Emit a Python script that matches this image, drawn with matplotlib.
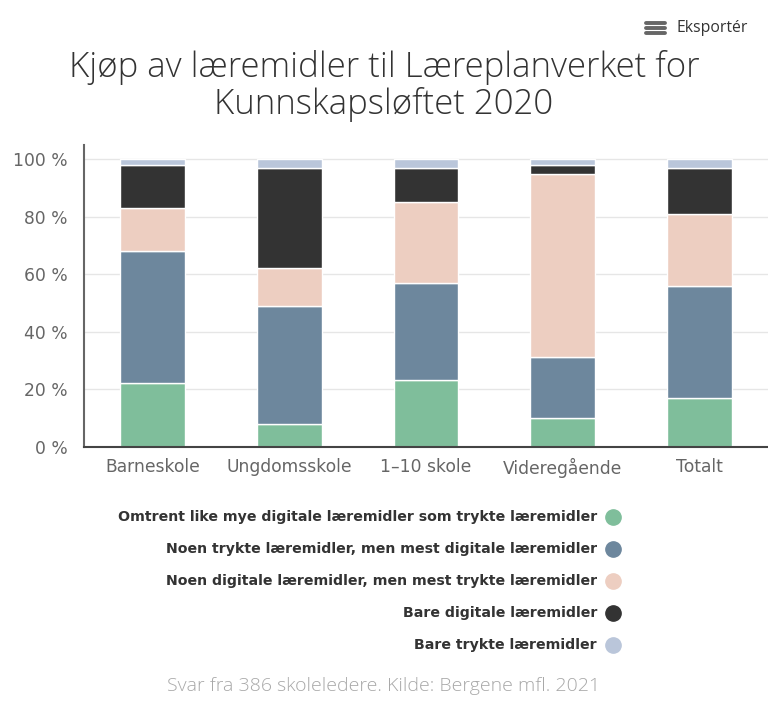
import numpy as np
import matplotlib.pyplot as plt
from matplotlib.lines import Line2D

categories = ["Barneskole", "Ungdomsskole", "1–10 skole", "Videregående", "Totalt"]
series = [
    "Omtrent like mye digitale læremidler som trykte læremidler",
    "Noen trykte læremidler, men mest digitale læremidler",
    "Noen digitale læremidler, men mest trykte læremidler",
    "Bare digitale læremidler",
    "Bare trykte læremidler",
]
like_mye = [22, 8, 23, 10, 17]
mest_digitale = [46, 41, 34, 21, 39]
mest_trykte = [15, 13, 28, 64, 25]
bare_digitale = [15, 35, 12, 3, 16]
bare_trykte = [2, 3, 3, 2, 3]
values = [like_mye, mest_digitale, mest_trykte, bare_digitale, bare_trykte]

colors = ["#7fbe9b", "#6d879d", "#edcec1", "#333333", "#bac6da"]

fig = plt.figure(figsize=(7.68, 7.04), dpi=100)
ax = fig.add_axes([84 / 768, 1 - 446.5 / 704, 1 - 84 / 768, (446.5 - 145) / 704])

x = np.arange(len(categories))
bottom = np.zeros(len(categories))
for name, vals, col in zip(series, values, colors):
    ax.bar(x, vals, 0.475, bottom=bottom, color=col, edgecolor="white",
           linewidth=1, label=name, zorder=2)
    bottom += np.array(vals)

ax.set_xlim(-0.5, len(categories) - 0.5)
ax.set_ylim(0, 105)
ax.set_yticks([0, 20, 40, 60, 80, 100])
ax.set_yticklabels([f"{v} %" for v in [0, 20, 40, 60, 80, 100]])
ax.set_xticks(x)
ax.set_xticklabels(categories)
ax.tick_params(axis="both", length=0, colors="#666666", labelsize=12.3)
ax.tick_params(axis="x", pad=8)
ax.tick_params(axis="y", pad=12)
ax.grid(axis="y", color="#e6e6e6", linewidth=1, zorder=0)
ax.set_axisbelow(True)
for s in ["top", "right"]:
    ax.spines[s].set_visible(False)
ax.spines["left"].set_color("#666666")
ax.spines["left"].set_linewidth(1.5)
ax.spines["bottom"].set_color("#444444")
ax.spines["bottom"].set_linewidth(1.5)

fig.text(0.5, 1 - 86 / 704, "Kjøp av læremidler til Læreplanverket for\nKunnskapsløftet 2020",
         ha="center", va="center", fontsize=25, color="#333333",
         family="Open Sans", fontweight="light", linespacing=1.08)

# legend, right aligned text with round markers
for i, (name, col) in enumerate(zip(series, colors)):
    yy = 1 - (517 + i * 32) / 704
    fig.text(597 / 768, yy, name, ha="right", va="center", fontsize=10.2,
             fontweight="bold", color="#333333")
    fig.add_artist(Line2D([613 / 768], [yy], marker="o", markersize=11,
                          color=col, linestyle="none", transform=fig.transFigure))

fig.text(0.5, 1 - 686 / 704, "Svar fra 386 skoleledere. Kilde: Bergene mfl. 2021",
         ha="center", va="center", fontsize=14, color="#a8a8a8",
         family="Open Sans", fontweight="light")

# export button
fig.text(676 / 768, 1 - 28 / 704, "Eksportér", ha="left", va="center",
         fontsize=11.3, color="#333333", family="Open Sans")
for dy in (-5, 0, 5):
    fig.add_artist(Line2D([646 / 768, 665 / 768], [1 - (28 + dy) / 704] * 2,
                          color="#666666", linewidth=2.8, solid_capstyle="round",
                          transform=fig.transFigure))

fig.savefig("out.png", dpi=100)
